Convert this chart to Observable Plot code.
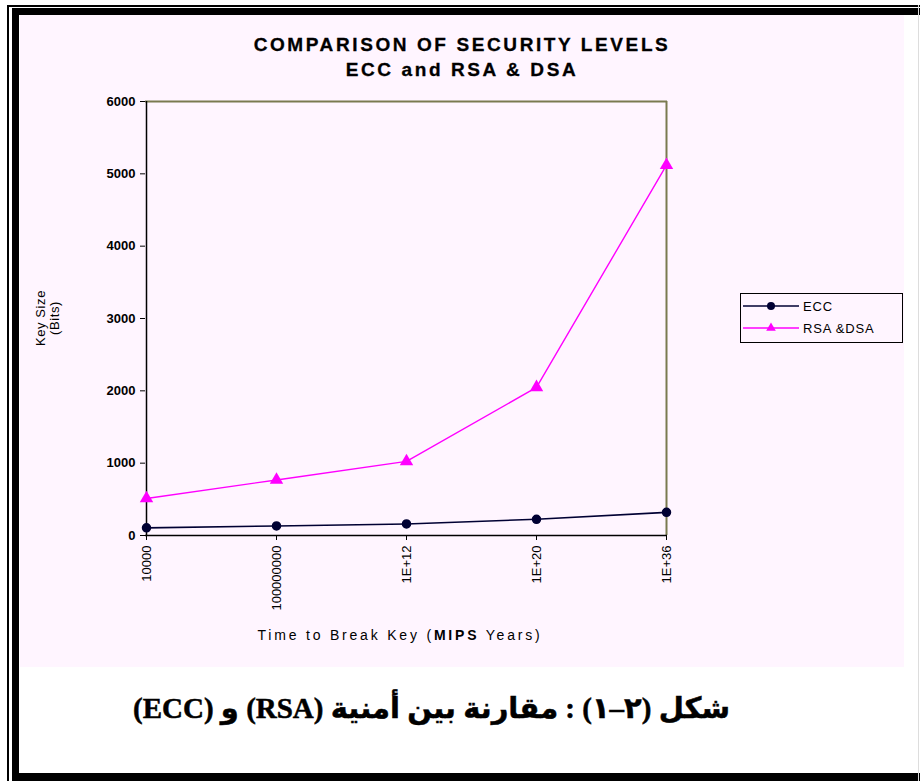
<!DOCTYPE html>
<html>
<head>
<meta charset="utf-8">
<script src="https://cdn.jsdelivr.net/npm/d3@7"></script>
<script src="https://cdn.jsdelivr.net/npm/@observablehq/plot@0.6"></script>
<style>
  html, body { margin: 0; padding: 0; background: #fff; width: 920px; height: 781px; overflow: hidden; }
  #frame { position: absolute; left: 0; top: 0; width: 920px; height: 781px; }
  .thin { position: absolute; background: #000; }
  #panel { position: absolute; left: 20px; top: 15px; width: 884px; height: 652px; background: #fff5ff; }
  .title { position: absolute; left: 0; width: 100%; text-align: center; font-family: "Liberation Sans", Arial, sans-serif; font-weight: bold; font-size: 19px; line-height: 20px; letter-spacing: 2.6px; -webkit-text-stroke: 0.3px #000; color: #000; }
  #chart { position: absolute; left: 0px; top: 75px; }
  .ylab { position: absolute; width: 80px; height: 14px; line-height: 14px; text-align: center; font-family: "Liberation Sans", Arial, sans-serif; font-size: 13px; letter-spacing: 0.6px; transform: rotate(-90deg); transform-origin: 40px 7px; white-space: nowrap; color:#000; }
  #xlab { position: absolute; left: 180px; top: 612px; width: 400px; text-align: center; font-family: "Liberation Sans", Arial, sans-serif; font-size: 14px; letter-spacing: 2.8px; color: #000; }
  #legend { position: absolute; left: 720px; top: 278px; width: 163px; height: 50px; border: 1.5px solid #000; box-sizing: border-box; }
  #caption { position: absolute; left: 100px; top: 691px; width: 630px; text-align: right; direction: rtl; font-family: "Liberation Serif", "Times New Roman", "DejaVu Sans", serif; font-weight: bold; font-size: 29px; -webkit-text-stroke: 0.5px #000; color: #000; }
</style>
</head>
<body>
<div id="frame">
  <div class="thin" style="left:7px; top:5px; width:913px; height:2px;"></div>
  <div class="thin" style="left:7px; top:5px; width:2px; height:776px;"></div>
  <div class="thin" style="left:12px; top:8px; width:908px; height:7px;"></div>
  <div class="thin" style="left:12px; top:8px; width:7px; height:773px;"></div>
  <div class="thin" style="left:12px; top:773px; width:908px; height:8px;"></div>
  <div class="thin" style="left:918px; top:5px; width:1px; height:776px; background:#ddd;"></div>
  <div id="panel">
    <div class="title" style="top:20px;">COMPARISON OF SECURITY LEVELS</div>
    <div class="title" style="top:45px;">ECC and RSA &amp; DSA</div>
    <div id="chart"></div>
    <div class="ylab" style="left:-19px; top:296px;">Key Size</div>
    <div class="ylab" style="left:-5px; top:296px;">(Bits)</div>
    <div id="xlab">Time to Break Key (<b>MIPS</b> Years)</div>
    <div id="legend"></div>
  </div>
  <div id="caption">شكل (٢–١) :  مقارنة بين أمنية (RSA) و (ECC)</div>
</div>
<script>
// Data
const categories = ["10000", "100000000", "1E+12", "1E+20", "1E+36"];
const eccValues = [106, 132, 160, 224, 320];
const rsaValues = [512, 768, 1024, 2048, 5120];
const yTicks = [0, 1000, 2000, 3000, 4000, 5000, 6000];
const seriesNames = ["ECC", "RSA &DSA"];
const seriesColors = ["#000033", "#ff00ff"];

const ecc = categories.map((c, i) => ({cat: c, value: eccValues[i], series: seriesNames[0]}));
const rsa = categories.map((c, i) => ({cat: c, value: rsaValues[i], series: seriesNames[1]}));

const chart = Plot.plot({
  width: 700,
  height: 570,
  marginLeft: 125,
  marginRight: 53,
  marginTop: 11,
  marginBottom: 125,
  style: {background: "transparent", fontFamily: "Liberation Sans, Arial, sans-serif", fontSize: "13px", color: "#000"},
  x: {type: "point", domain: categories, padding: 0, label: null},
  y: {domain: [0, 6000], label: null},
  marks: [
    Plot.ruleY([6000], {stroke: "#7a7a50", strokeWidth: 2}),
    Plot.ruleX([categories[categories.length - 1]], {stroke: "#7a7a50", strokeWidth: 2}),
    Plot.ruleX([categories[0]], {stroke: "#000", strokeWidth: 1.5}),
    Plot.ruleY([0], {stroke: "#000", strokeWidth: 1.5}),
    Plot.axisY({ticks: yTicks, tickSize: 5, tickPadding: 5, tickFormat: d => String(d), fontSize: 13, fontWeight: "bold", stroke: "#000"}),
    Plot.axisX({tickSize: 5, tickPadding: 5, tickRotate: -90, fontSize: 13, stroke: "#000"}),
    Plot.line(ecc, {x: "cat", y: "value", stroke: seriesColors[0], strokeWidth: 1.6}),
    Plot.line(rsa, {x: "cat", y: "value", stroke: seriesColors[1], strokeWidth: 1.4}),
    Plot.dot(ecc, {x: "cat", y: "value", fill: seriesColors[0], stroke: seriesColors[0], r: 4}),
    Plot.dot(rsa, {x: "cat", y: "value", fill: seriesColors[1], symbol: "triangle", r: 5})
  ]
});
document.getElementById("chart").appendChild(chart);

// Legend
const leg = document.getElementById("legend");
const ls = d3.select(leg).append("svg").attr("width", 160).attr("height", 47);
seriesNames.forEach((name, i) => {
  const y = 12 + i * 22;
  ls.append("line").attr("x1", 2).attr("x2", 58).attr("y1", y).attr("y2", y).attr("stroke", seriesColors[i]).attr("stroke-width", 1.5);
  if (i === 0) {
    ls.append("circle").attr("cx", 30).attr("cy", y).attr("r", 4).attr("fill", seriesColors[i]);
  } else {
    ls.append("path").attr("d", d3.symbol(d3.symbolTriangle, 40)()).attr("transform", `translate(30,${y})`).attr("fill", seriesColors[i]);
  }
  ls.append("text").attr("x", 62).attr("y", y + 5).attr("font-family", "Liberation Sans, Arial, sans-serif").attr("font-size", 13).attr("letter-spacing", 0.8).text(name);
});
</script>
</body>
</html>
